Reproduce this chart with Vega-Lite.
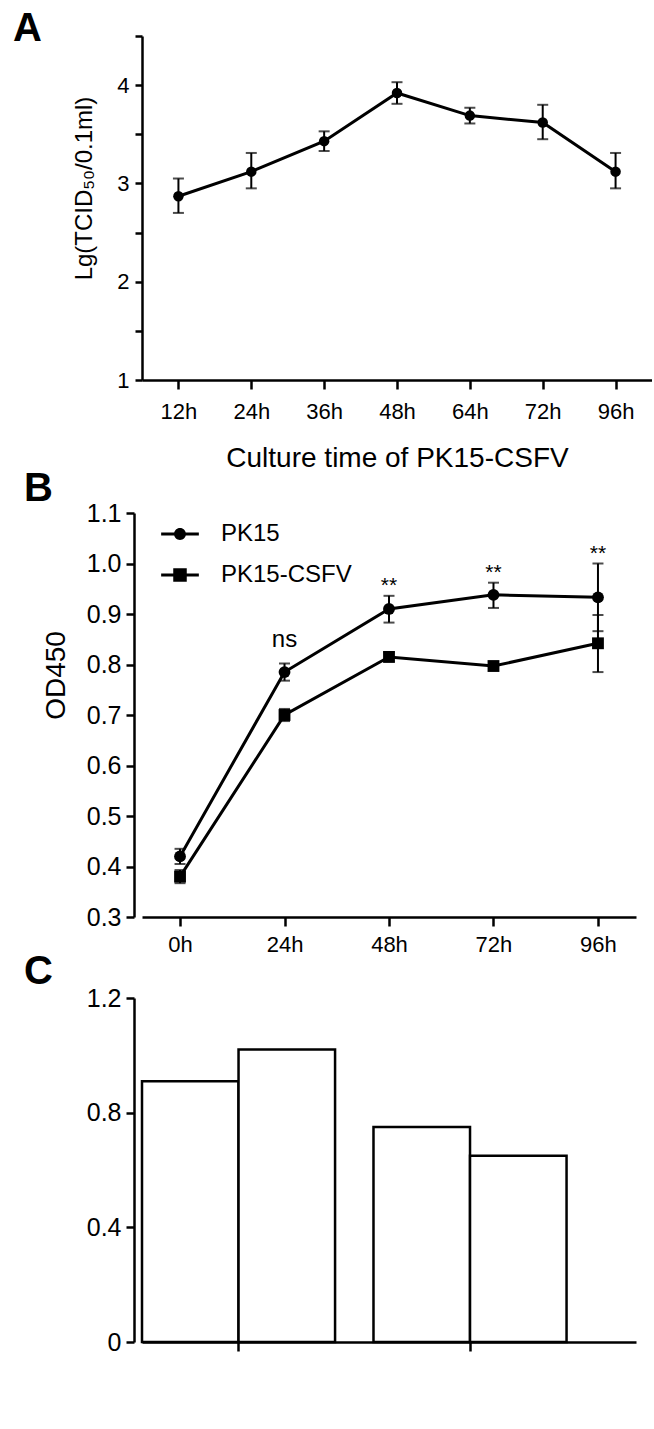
{
  "$schema": "https://vega.github.io/schema/vega-lite/v6.json",
  "background": "white",
  "padding": {"left": 13, "top": 8, "right": 0, "bottom": 0},
  "columns": 1,
  "spacing": -3,
  "align": "none",
  "config": {
    "font": "Liberation Sans",
    "view": {"stroke": null},
    "axis": {
      "grid": false,
      "domainColor": "#000",
      "domainWidth": 2.5,
      "tickColor": "#000",
      "tickWidth": 2.5,
      "labelColor": "#000",
      "titleColor": "#000",
      "labelFont": "Liberation Sans",
      "titleFont": "Liberation Sans",
      "titleFontWeight": "normal"
    },
    "title": {"font": "Liberation Sans", "fontWeight": "bold", "fontSize": 40, "color": "#000", "anchor": "start", "frame": "group", "baseline": "alphabetic"},
    "legend": {"labelFont": "Liberation Sans", "labelColor": "#000"}
  },
  "datasets": {
    "tcid": [
      {"time": "12h", "mean": 2.87, "lo": 2.70, "hi": 3.05},
      {"time": "24h", "mean": 3.12, "lo": 2.95, "hi": 3.31},
      {"time": "36h", "mean": 3.43, "lo": 3.33, "hi": 3.53},
      {"time": "48h", "mean": 3.92, "lo": 3.81, "hi": 4.03},
      {"time": "64h", "mean": 3.69, "lo": 3.61, "hi": 3.77},
      {"time": "72h", "mean": 3.62, "lo": 3.45, "hi": 3.80},
      {"time": "96h", "mean": 3.12, "lo": 2.95, "hi": 3.31}
    ],
    "od": [
      {"series": "PK15", "time": "0h", "mean": 0.42, "lo": 0.405, "hi": 0.435, "sig": ""},
      {"series": "PK15", "time": "24h", "mean": 0.785, "lo": 0.768, "hi": 0.802, "sig": "ns"},
      {"series": "PK15", "time": "48h", "mean": 0.91, "lo": 0.883, "hi": 0.936, "sig": "**"},
      {"series": "PK15", "time": "72h", "mean": 0.938, "lo": 0.912, "hi": 0.962, "sig": "**"},
      {"series": "PK15", "time": "96h", "mean": 0.933, "lo": 0.866, "hi": 1.0, "sig": "**"},
      {"series": "PK15-CSFV", "time": "0h", "mean": 0.38, "lo": 0.367, "hi": 0.393, "sig": ""},
      {"series": "PK15-CSFV", "time": "24h", "mean": 0.70, "lo": 0.688, "hi": 0.712, "sig": ""},
      {"series": "PK15-CSFV", "time": "48h", "mean": 0.815, "lo": 0.806, "hi": 0.824, "sig": ""},
      {"series": "PK15-CSFV", "time": "72h", "mean": 0.797, "lo": 0.79, "hi": 0.804, "sig": ""},
      {"series": "PK15-CSFV", "time": "96h", "mean": 0.842, "lo": 0.785, "hi": 0.898, "sig": ""}
    ],
    "bars": [
      {"group": "g1", "sub": "a", "value": 0.91},
      {"group": "g1", "sub": "b", "value": 1.02},
      {"group": "g2", "sub": "a", "value": 0.75},
      {"group": "g2", "sub": "b", "value": 0.65}
    ]
  },
  "concat": [
    {
      "width": 510,
      "height": 344,
      "title": {"text": "A", "dx": -129, "offset": -14},
      "data": {"name": "tcid"},
      "encoding": {
        "x": {
          "field": "time", "type": "ordinal", "sort": null,
          "scale": {"type": "point", "padding": 0.5},
          "axis": {"title": "Culture time of PK15-CSFV", "labelAngle": 0, "labelFontSize": 22, "titleFontSize": 28, "tickSize": 9, "labelPadding": 12, "titlePadding": 22}
        }
      },
      "layer": [
        {
          "mark": {"type": "rule", "color": "#000", "strokeWidth": 2},
          "encoding": {
            "y": {"field": "lo", "type": "quantitative", "scale": {"domain": [1, 4.5], "nice": false}, "title": "Lg(TCID₅₀/0.1ml)",
              "axis": {"values": [1, 1.5, 2, 2.5, 3, 3.5, 4, 4.5], "labelExpr": "datum.value % 1 === 0 ? format(datum.value, 'd') : ''", "labelFontSize": 22, "titleFontSize": 24, "tickSize": 7, "labelPadding": 6, "titlePadding": 20, "titleY": 152}},
            "y2": {"field": "hi"}
          }
        },
        {
          "mark": {"type": "tick", "color": "#000", "thickness": 2, "size": 11},
          "encoding": {"y": {"field": "lo", "type": "quantitative", "title": "Lg(TCID₅₀/0.1ml)"}}
        },
        {
          "mark": {"type": "tick", "color": "#000", "thickness": 2, "size": 11},
          "encoding": {"y": {"field": "hi", "type": "quantitative", "title": "Lg(TCID₅₀/0.1ml)"}}
        },
        {
          "mark": {"type": "line", "color": "#000", "strokeWidth": 3},
          "encoding": {"y": {"field": "mean", "type": "quantitative", "title": "Lg(TCID₅₀/0.1ml)"}}
        },
        {
          "mark": {"type": "point", "filled": true, "color": "#000", "opacity": 1, "size": 110},
          "encoding": {"y": {"field": "mean", "type": "quantitative", "title": "Lg(TCID₅₀/0.1ml)"}}
        }
      ]
    },
    {
      "width": 494,
      "height": 404,
      "title": {"text": "B", "dx": -118, "offset": -8},
      "data": {"name": "od"},
      "encoding": {
        "x": {
          "field": "time", "type": "ordinal", "sort": null,
          "scale": {"type": "point", "padding": 0.364},
          "axis": {"title": null, "labelAngle": 0, "labelFontSize": 22, "tickSize": 9, "labelPadding": 8}
        }
      },
      "resolve": {"scale": {"shape": "independent"}},
      "layer": [
        {
          "mark": {"type": "rule", "color": "#000", "strokeWidth": 2},
          "encoding": {
            "y": {"field": "lo", "type": "quantitative", "scale": {"domain": [0.3, 1.1], "nice": false}, "title": "OD450",
              "axis": {"values": [0.3, 0.4, 0.5, 0.6, 0.7, 0.8, 0.9, 1.0, 1.1], "format": ".1f", "offset": 8, "labelFontSize": 25, "titleFontSize": 28, "tickSize": 8, "labelPadding": 5, "titlePadding": 16, "titleY": 162}},
            "y2": {"field": "hi"},
            "detail": {"field": "series"}
          }
        },
        {
          "mark": {"type": "tick", "color": "#000", "thickness": 2, "size": 11},
          "encoding": {"y": {"field": "lo", "type": "quantitative", "title": "OD450"}}
        },
        {
          "mark": {"type": "tick", "color": "#000", "thickness": 2, "size": 11},
          "encoding": {"y": {"field": "hi", "type": "quantitative", "title": "OD450"}}
        },
        {
          "mark": {"type": "line", "color": "#000", "strokeWidth": 3},
          "encoding": {"y": {"field": "mean", "type": "quantitative", "title": "OD450"}, "detail": {"field": "series"}}
        },
        {
          "mark": {"type": "point", "filled": true, "color": "#000", "opacity": 1, "size": 140},
          "encoding": {
            "y": {"field": "mean", "type": "quantitative", "title": "OD450"},
            "shape": {"field": "series", "type": "nominal", "scale": {"domain": ["PK15", "PK15-CSFV"], "range": ["circle", "square"]}, "legend": null}
          }
        },
        {
          "mark": {"type": "point", "filled": true, "color": "#000", "opacity": 0, "size": 676},
          "encoding": {
            "y": {"field": "mean", "type": "quantitative", "title": "OD450"},
            "shape": {
              "field": "series", "type": "nominal",
              "scale": {"domain": ["PK15", "PK15-CSFV"], "range": [
                "M-1.45,-0.115H1.45V0.115H-1.45Z M-0.46,0A0.46,0.46 0 1,1 0.46,0A0.46,0.46 0 1,1 -0.46,0Z",
                "M-1.45,-0.115H1.45V0.115H-1.45Z M-0.52,-0.52H0.52V0.52H-0.52Z"
              ]},
              "legend": {"title": null, "orient": "top-left", "offset": 8, "padding": 0, "symbolSize": 676, "symbolOffset": 17, "labelOffset": 28, "rowPadding": 16, "labelFontSize": 24, "symbolOpacity": 1, "symbolFillColor": "#000", "symbolStrokeColor": "#000", "symbolStrokeWidth": 0}
            }
          }
        },
        {
          "transform": [{"filter": "datum.sig === 'ns'"}],
          "mark": {"type": "text", "color": "#000", "fontSize": 24, "baseline": "alphabetic", "dy": -16},
          "encoding": {"y": {"field": "hi", "type": "quantitative", "title": "OD450"}, "text": {"field": "sig"}}
        },
        {
          "transform": [{"filter": "datum.sig === '**'"}],
          "mark": {"type": "text", "color": "#000", "fontSize": 21, "baseline": "alphabetic", "dy": -4},
          "encoding": {"y": {"field": "hi", "type": "quantitative", "title": "OD450"}, "text": {"field": "sig"}}
        }
      ]
    },
    {
      "width": 494,
      "height": 344,
      "title": {"text": "C", "dx": -118, "offset": -6},
      "data": {"name": "bars"},
      "mark": {"type": "bar", "fill": "white", "stroke": "#000", "strokeWidth": 2.5},
      "encoding": {
        "x": {"field": "group", "type": "nominal", "scale": {"paddingInner": 0.166, "paddingOuter": 0.15, "align": 0}, "axis": {"title": null, "labels": false, "tickSize": 9}},
        "xOffset": {"field": "sub", "type": "nominal", "scale": {"paddingInner": 0}},
        "y": {"field": "value", "type": "quantitative", "scale": {"domain": [0, 1.2], "nice": false}, "title": null,
          "axis": {"values": [0, 0.4, 0.8, 1.2], "labelExpr": "datum.value === 0 ? '0' : format(datum.value, '.1f')", "offset": 8, "labelFontSize": 25, "tickSize": 8, "labelPadding": 5}}
      }
    }
  ]
}
